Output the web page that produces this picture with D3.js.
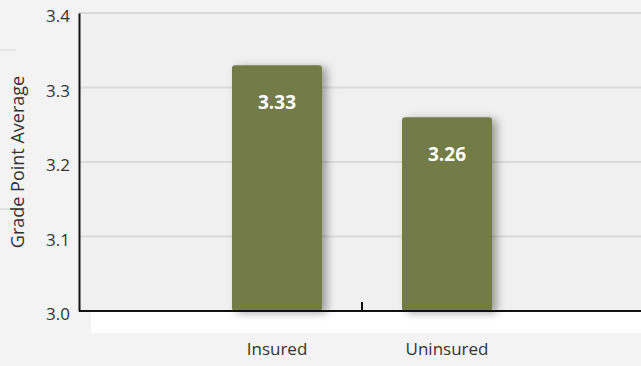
<!DOCTYPE html>
<html>
<head>
<meta charset="utf-8">
<script src="https://cdn.jsdelivr.net/npm/d3@7"></script>
<style>
  html, body { margin: 0; padding: 0; background: #f3f3f3; }
  svg { display: block; }
</style>
</head>
<body>
<svg id="chart" width="641" height="366"></svg>
<script>
// Average GPA by insurance status
const categories = ["Insured", "Uninsured"];
const gpaValues = [3.33, 3.26];
const yTicks = [3.0, 3.1, 3.2, 3.3, 3.4];
const yTitle = "Grade Point Average";

const W = 641, H = 366;
const plot = { left: 79, right: 645, top: 13, bottom: 311 };
const fontFamily = "'Open Sans', 'Noto Sans', sans-serif";

const svg = d3.select("#chart");

const defs = svg.append("defs");
const shadow = defs.append("filter").attr("id", "barShadow")
  .attr("x", "-20%").attr("y", "-20%").attr("width", "150%").attr("height", "140%");
shadow.append("feDropShadow")
  .attr("dx", 5).attr("dy", 2).attr("stdDeviation", 4)
  .attr("flood-color", "#000").attr("flood-opacity", 0.35);

// page background
svg.append("rect").attr("width", W).attr("height", H).attr("fill", "#f3f3f3");

// decorative rules at the far left
svg.append("line").attr("x1", 0).attr("x2", 16).attr("y1", 50).attr("y2", 50)
  .attr("stroke", "#e4e4e4").attr("stroke-width", 2);
svg.append("line").attr("x1", 0).attr("x2", 16).attr("y1", 209).attr("y2", 209)
  .attr("stroke", "#e4e4e4").attr("stroke-width", 2);

const x = d3.scaleBand()
  .domain(categories)
  .range([plot.left, plot.right])
  .paddingInner(0.4706)
  .paddingOuter(0.9);

const y = d3.scaleLinear()
  .domain([yTicks[0], yTicks[yTicks.length - 1]])
  .range([plot.bottom, plot.top]);

// plot panel and the white strip under the baseline
svg.append("rect")
  .attr("x", plot.left).attr("y", plot.top)
  .attr("width", W - plot.left).attr("height", plot.bottom - plot.top)
  .attr("fill", "#f0f0f0");
svg.append("rect")
  .attr("x", 91).attr("y", plot.bottom)
  .attr("width", W - 91).attr("height", 22)
  .attr("fill", "#ffffff");

// horizontal gridlines
svg.append("g")
  .selectAll("line")
  .data(yTicks.slice(1))
  .join("line")
  .attr("x1", plot.left).attr("x2", W)
  .attr("y1", d => y(d)).attr("y2", d => y(d))
  .attr("stroke", "#dadada").attr("stroke-width", 2);

// bars
svg.append("g")
  .selectAll("rect")
  .data(categories)
  .join("rect")
  .attr("x", d => x(d))
  .attr("y", (d, i) => y(gpaValues[i]))
  .attr("width", x.bandwidth())
  .attr("height", (d, i) => y(yTicks[0]) - y(gpaValues[i]))
  .attr("rx", 3).attr("ry", 3)
  .attr("fill", "#737b47")
  .attr("filter", "url(#barShadow)");

// value labels inside the bars
svg.append("g")
  .selectAll("text")
  .data(categories)
  .join("text")
  .attr("x", d => x(d) + x.bandwidth() / 2)
  .attr("y", (d, i) => y(gpaValues[i]) + 44)
  .attr("text-anchor", "middle")
  .attr("font-family", fontFamily)
  .attr("font-weight", 700)
  .attr("font-size", 19)
  .attr("fill", "#ffffff")
  .text((d, i) => d3.format(".2f")(gpaValues[i]));

// y axis
const yAxis = svg.append("g")
  .attr("transform", `translate(${plot.left},0)`)
  .call(d3.axisLeft(y).tickValues(yTicks).tickFormat(d3.format(".1f")).tickSize(0).tickPadding(9));
yAxis.select(".domain").attr("stroke", "#111").attr("stroke-width", 2);
yAxis.selectAll("text")
  .attr("dy", "0.5em")
  .attr("font-family", fontFamily).attr("font-size", 17).attr("fill", "#333");

// x axis
const xAxis = svg.append("g")
  .attr("transform", `translate(0,${plot.bottom})`)
  .call(d3.axisBottom(x).tickSize(0).tickPadding(32));
xAxis.select(".domain").attr("d", `M${plot.left},0H${W}`)
  .attr("stroke", "#111").attr("stroke-width", 2);
xAxis.selectAll("text")
  .attr("font-family", fontFamily).attr("font-size", 17).attr("fill", "#333");

// divider tick between the two categories
const divX = x(categories[1]) - x.step() * x.paddingInner() / 2;
xAxis.append("line")
  .attr("x1", divX).attr("x2", divX).attr("y1", 0).attr("y2", -9)
  .attr("stroke", "#111").attr("stroke-width", 2);

// y axis title
svg.append("text")
  .attr("transform", `translate(24,162) rotate(-90)`)
  .attr("text-anchor", "middle")
  .attr("font-family", fontFamily)
  .attr("font-size", 18)
  .attr("fill", "#333")
  .text(yTitle);
</script>
</body>
</html>
